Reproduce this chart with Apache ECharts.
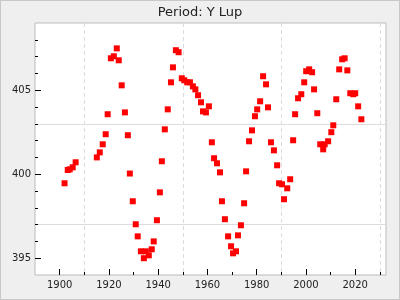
<!DOCTYPE html>
<html>
<head>
<meta charset="utf-8">
<script src="https://cdn.jsdelivr.net/npm/echarts@6/dist/echarts.min.js"></script>
<style>
html,body{margin:0;padding:0;background:#efefef;}
#c{width:400px;height:300px;position:relative;}
#frame{position:absolute;left:0;top:0;width:400px;height:300px;box-sizing:border-box;border:1px solid #c8c8c8;pointer-events:none;}
</style>
</head>
<body>
<div id="c"></div>
<div id="frame"></div>
<script>
var titleText = 'Period: Y Lup';
var years = [1902.0,1903.3,1904.1,1905.3,1906.5,1915.1,1916.3,1917.5,1918.7,1919.5,
  1920.8,1922.0,1923.2,1924.0,1925.2,1926.5,1927.7,1928.5,1929.7,1930.9,
  1931.7,1933.0,1934.2,1935.0,1936.2,1937.4,1938.2,1939.5,1940.7,1941.5,
  1942.7,1943.9,1945.2,1946.0,1947.2,1948.3,1949.6,1950.6,1951.8,1952.9,
  1954.1,1955.1,1956.2,1957.4,1958.2,1959.4,1960.6,1961.8,1962.7,1963.9,
  1965.1,1965.9,1967.1,1968.4,1969.6,1970.4,1971.6,1972.4,1973.6,1974.9,
  1975.7,1976.9,1978.1,1979.3,1980.2,1981.4,1982.6,1983.8,1984.6,1985.8,
  1987.0,1988.3,1989.1,1990.3,1991.1,1992.4,1993.6,1994.8,1995.6,1996.8,
  1998.1,1999.3,2000.1,2001.3,2002.5,2003.3,2004.6,2005.8,2007.0,2007.6,
  2009.0,2010.3,2011.1,2012.3,2013.5,2014.7,2015.7,2016.8,2018.0,2019.2,
  2020.0,2021.2,2022.5];
var periods = [399.46,400.25,400.29,400.41,400.71,401.0,401.3,401.78,402.38,403.57,
  406.9,407.02,407.49,406.78,405.29,403.68,402.32,400.04,398.39,397.02,
  396.30,395.41,395.0,395.41,395.17,395.53,396.0,397.26,398.92,400.77,
  402.67,403.86,405.47,406.36,407.38,407.26,405.71,405.59,405.47,405.47,
  405.23,405.05,404.70,404.28,403.74,403.68,404.04,401.9,400.95,400.65,
  400.11,398.39,397.32,396.30,395.71,395.29,395.41,396.36,396.96,398.27,
  400.17,401.96,402.61,403.45,403.86,404.34,405.83,405.35,403.98,401.9,
  401.42,400.53,399.46,399.40,398.51,399.16,399.70,402.02,403.57,404.52,
  404.76,405.47,406.13,406.24,406.07,405.05,403.63,401.78,401.48,401.78,
  401.96,402.5,402.91,404.46,406.24,406.84,406.90,406.18,404.82,404.76,
  404.82,404.04,403.27];
var xMajorTicks = [1900,1920,1940,1960,1980,2000,2020];
var xMinorTicks = [1910,1930,1950,1970,1990,2010,2030];
var yMajorTicks = [395,400,405];
var yMinorTicks = [396,397,398,399,401,402,403,404,406,407,408];

var font = 'DejaVu Sans';
var chart = echarts.init(document.getElementById('c'), null, {renderer:'canvas'});
var pts = years.map(function(y,i){return [y, periods[i]];});
var tr = 'rgba(0,0,0,0)';
function plain(v){ return String(v); }
chart.setOption({
  animation:false,
  backgroundColor:'#efefef',
  title:{text:titleText,left:'center',top:1,textStyle:{fontFamily:font,fontSize:13,fontWeight:'normal',color:'#222'}},
  grid:{left:35,top:23,right:14,bottom:25,show:true,backgroundColor:'#fff',borderColor:'#bbb',borderWidth:1,containLabel:false},
  xAxis:[{
    type:'value',min:1890,max:2032.5,interval:10,position:'bottom',
    axisLine:{show:false},
    axisTick:{show:true,inside:true,length:3,customValues:xMinorTicks,lineStyle:{color:'#000'}},
    axisLabel:{show:true,customValues:xMajorTicks,formatter:plain,fontFamily:font,fontSize:10,color:'#222',margin:5},
    splitLine:{show:true,lineStyle:{color:['#dcdcdc',tr],type:[4,3],width:1}}
  },{
    type:'value',min:1890,max:2032.5,position:'bottom',
    axisLine:{show:false},
    axisTick:{show:true,inside:true,length:6,customValues:xMajorTicks,lineStyle:{color:'#000'}},
    axisLabel:{show:false},splitLine:{show:false}
  }],
  yAxis:[{
    type:'value',min:394,max:409,interval:1,position:'left',
    axisLine:{show:false},
    axisTick:{show:true,inside:true,length:3,customValues:yMinorTicks,lineStyle:{color:'#000'}},
    axisLabel:{show:true,customValues:yMajorTicks,formatter:plain,fontFamily:font,fontSize:10,color:'#222',margin:4},
    splitLine:{show:true,lineStyle:{color:[tr,'#dcdcdc',tr,tr,tr],type:'solid',width:1}}
  },{
    type:'value',min:394,max:409,position:'left',
    axisLine:{show:false},
    axisTick:{show:true,inside:true,length:6,customValues:yMajorTicks,lineStyle:{color:'#000'}},
    axisLabel:{show:false},splitLine:{show:false}
  }],
  series:[{
    type:'scatter',xAxisIndex:0,yAxisIndex:0,
    symbol:'rect',symbolSize:6,
    itemStyle:{color:'#ff0000',opacity:1},
    data:pts
  }]
});
</script>
</body>
</html>
